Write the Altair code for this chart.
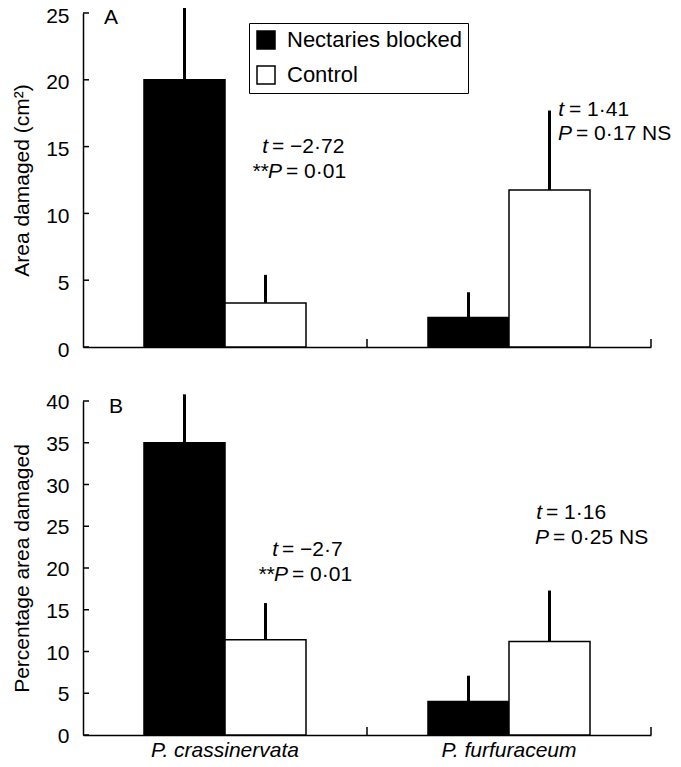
import altair as alt
import pandas as pd

FONT = "Liberation Sans"

# ---------------- data ----------------
species = ["P. crassinervata", "P. furfuraceum"]
groups = ["Nectaries blocked", "Control"]

# Panel A: area damaged (cm2)
a_blocked = [20.0, 2.2]
a_control = [3.3, 11.75]
a_blocked_upper = [25.8, 4.1]
a_control_upper = [5.4, 17.7]
a_ticks = [0, 5, 10, 15, 20, 25]

# Panel B: percentage area damaged
b_blocked = [35.0, 4.0]
b_control = [11.4, 11.2]
b_blocked_upper = [40.8, 7.1]
b_control_upper = [15.8, 17.3]
b_ticks = [0, 5, 10, 15, 20, 25, 30, 35, 40]

# statistics annotations (y in data units)
a_ann_species = ["P. crassinervata", "P. crassinervata", "P. furfuraceum", "P. furfuraceum"]
a_ann_y = [14.97, 13.1, 17.74, 15.94]
a_ann_lead = ["t", "**P", "t", "P"]
a_ann_rest = ["= \u22122\u00b772", "= 0\u00b701", "= 1\u00b741", "= 0\u00b717 NS"]

b_ann_species = ["P. crassinervata", "P. crassinervata", "P. furfuraceum", "P. furfuraceum"]
b_ann_y = [22.13, 19.14, 26.56, 23.56]
b_ann_lead = ["t", "**P", "t", "P"]
b_ann_rest = ["= \u22122\u00b77", "= 0\u00b701", "= 1\u00b716", "= 0\u00b725 NS"]

# layout of annotation lines (pixel offsets from category centre): (lead dx, rest dx)
a_ann_dx = [(43, 47), (57, 61), (55, 60), (63, 67)]
b_ann_dx = [(53, 57), (63, 67), (33, 37), (40, 44)]


def make_df(blocked, control, blocked_up, control_up):
    rows = []
    for i, s in enumerate(species):
        rows.append({"species": s, "group": groups[0], "value": blocked[i], "upper": blocked_up[i]})
        rows.append({"species": s, "group": groups[1], "value": control[i], "upper": control_up[i]})
    return pd.DataFrame(rows)


W = 568
H = 334


def panel(df, ticks, ymax, ytitle, label, label_pos, label_offset, show_x_labels, legend,
          ann_species, ann_y, ann_lead, ann_rest, ann_dx):
    xscale = alt.Scale(domain=species, paddingInner=0, paddingOuter=0)
    xoff = alt.XOffset("group:N", sort=groups,
                       scale=alt.Scale(domain=groups, paddingInner=0, paddingOuter=0.753))
    xaxis = alt.Axis(title=None, ticks=False, labels=show_x_labels, labelFontStyle="italic",
                     labelFontSize=21, labelPadding=4, labelAngle=0, domain=True)
    yscale = alt.Scale(domain=[0, ymax], nice=False, zero=True)
    yaxis = alt.Axis(values=ticks, ticks=False, labelPadding=14, labelFontSize=21,
                     labelBaseline="alphabetic", labelOffset=label_offset,
                     title=ytitle, titleFontSize=21, titleX=-55, titleBaseline="alphabetic",
                     titleFontWeight="normal", grid=False)

    base = alt.Chart(df)
    bars = base.mark_bar(stroke="black", strokeWidth=1.5).encode(
        x=alt.X("species:N", sort=species, scale=xscale, axis=xaxis),
        xOffset=xoff,
        y=alt.Y("value:Q", scale=yscale, axis=yaxis),
        color=alt.Color("group:N", scale=alt.Scale(domain=groups, range=["black", "white"]),
                        legend=legend),
    )
    errs = base.mark_rule(strokeWidth=3, color="black", clip=False).encode(
        x=alt.X("species:N", sort=species),
        xOffset=xoff,
        y=alt.Y("value:Q"),
        y2="upper:Q",
    )
    yt = alt.Chart(pd.DataFrame({"v": ticks})).mark_rule(strokeWidth=1.5, color="black").encode(
        y=alt.Y("v:Q"), x=alt.value(0), x2=alt.value(6)
    )
    xt = alt.Chart(pd.DataFrame({"species": species})).mark_rule(strokeWidth=1.5, color="black").encode(
        x=alt.X("species:N", sort=species, bandPosition=1),
        y=alt.value(H), y2=alt.value(H - 8)
    )
    lab = alt.Chart(pd.DataFrame({"label": [label]})).mark_text(
        align="left", baseline="alphabetic", fontSize=21, color="black"
    ).encode(x=alt.value(label_pos[0]), y=alt.value(label_pos[1]), text="label:N")
    layers = [bars, errs, yt, xt, lab]
    for i in range(len(ann_species)):
        row = pd.DataFrame({"species": [ann_species[i]], "y": [ann_y[i]],
                            "lead": [ann_lead[i]], "rest": [ann_rest[i]]})
        ldx, rdx = ann_dx[i]
        layers.append(alt.Chart(row).mark_text(align="right", baseline="middle", dx=ldx,
                                               fontSize=21, fontStyle="italic", color="black").encode(
            x=alt.X("species:N", sort=species), y=alt.Y("y:Q"), text="lead:N"))
        layers.append(alt.Chart(row).mark_text(align="left", baseline="middle", dx=rdx,
                                               fontSize=21, color="black").encode(
            x=alt.X("species:N", sort=species), y=alt.Y("y:Q"), text="rest:N"))
    return alt.layer(*layers).properties(width=W, height=H)


legend_a = alt.Legend(title=None, orient="none", legendX=166, legendY=10, symbolType="square",
                      symbolSize=324, symbolStrokeColor="black", symbolStrokeWidth=1.5,
                      labelFontSize=22, labelOffset=10, rowPadding=11, padding=6,
                      strokeColor="black", fillColor="white", labelLimit=400, labelColor="black")

pa = panel(make_df(a_blocked, a_control, a_blocked_upper, a_control_upper), a_ticks, 25,
           "Area damaged (cm\u00b2)", "A", (21, 11), 9, False, legend_a,
           a_ann_species, a_ann_y, a_ann_lead, a_ann_rest, a_ann_dx)
pb = panel(make_df(b_blocked, b_control, b_blocked_upper, b_control_upper), b_ticks, 40,
           "Percentage area damaged", "B", (26, 12), 7.5, True, None,
           b_ann_species, b_ann_y, b_ann_lead, b_ann_rest, b_ann_dx)

chart = alt.vconcat(pa, pb, spacing=54, bounds="flush").resolve_scale(
    x="independent", y="independent", color="independent", xOffset="independent"
).properties(
    padding={"left": 2, "top": -8, "right": 0, "bottom": 0},
).configure(font=FONT).configure_axis(
    domainColor="black", domainWidth=1.5, labelColor="black", titleColor="black",
    labelFont=FONT, titleFont=FONT, grid=False, ticks=False
).configure_view(stroke="transparent").configure_text(font=FONT)

chart.save("out.html", embed_options={"renderer": "svg", "actions": False})
